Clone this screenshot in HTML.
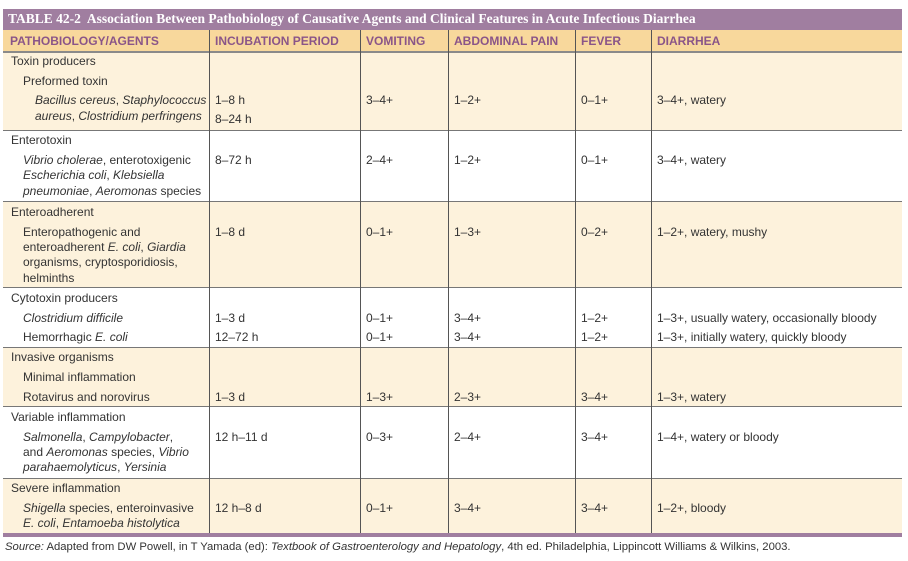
<!DOCTYPE html>
<html><head><meta charset="utf-8"><style>
body{margin:0;width:908px;height:561px;background:#fff;position:relative;overflow:hidden;font-family:"Liberation Sans",sans-serif;font-size:12px;color:#333}
.a{position:absolute;white-space:nowrap;line-height:14px}
.r{position:absolute;left:3px;width:899px}
.v{position:absolute;width:1px;background:#555}
.h{position:absolute;left:3px;width:899px;height:1px;background:#777}
.hd{position:absolute;top:34px;font-weight:bold;color:#8a5588;font-size:12px;line-height:14px}
</style></head><body>
<div class="r" style="top:9px;height:21px;background:#a07ea0"></div>
<div class="a" style="left:8px;top:12px;color:#fff;font-family:'Liberation Serif',serif;font-weight:bold;font-size:13.5px">TABLE 42-2&nbsp; Association Between Pathobiology of Causative Agents and Clinical Features in Acute Infectious Diarrhea</div>
<div class="r" style="top:30px;height:21px;background:#f8d89c"></div>
<div class="h" style="top:51px;height:2px;background:#8a8a8a"></div>
<div class="r" style="top:53px;height:77px;background:#fdf2dc"></div>
<div class="r" style="top:130px;height:71px;background:#fff"></div>
<div class="r" style="top:201px;height:86px;background:#fdf2dc"></div>
<div class="r" style="top:287px;height:60px;background:#fff"></div>
<div class="r" style="top:347px;height:59px;background:#fdf2dc"></div>
<div class="r" style="top:406px;height:72px;background:#fff"></div>
<div class="r" style="top:478px;height:56px;background:#fdf2dc"></div>
<div class="h" style="top:130px"></div><div class="h" style="top:201px"></div><div class="h" style="top:287px"></div>
<div class="h" style="top:347px"></div><div class="h" style="top:406px"></div><div class="h" style="top:478px"></div>
<div class="r" style="top:533px;height:4px;background:#a07ea0"></div>
<div class="v" style="left:209px;top:30px;height:503px"></div>
<div class="v" style="left:360px;top:30px;height:503px"></div>
<div class="v" style="left:448px;top:30px;height:503px"></div>
<div class="v" style="left:575px;top:30px;height:503px"></div>
<div class="v" style="left:651px;top:30px;height:503px"></div>
<div class="hd" style="left:10px">PATHOBIOLOGY/AGENTS</div>
<div class="hd" style="left:215px">INCUBATION PERIOD</div>
<div class="hd" style="left:366px">VOMITING</div>
<div class="hd" style="left:454px">ABDOMINAL PAIN</div>
<div class="hd" style="left:581px">FEVER</div>
<div class="hd" style="left:657px">DIARRHEA</div>

<div class="a" style="left:11px;top:54px">Toxin producers</div>
<div class="a" style="left:23px;top:74px">Preformed toxin</div>
<div class="a" style="left:35px;top:93px"><i>Bacillus cereus</i>, <i>Staphylococcus</i></div>
<div class="a" style="left:35px;top:109px"><i>aureus</i>, <i>Clostridium perfringens</i></div>
<div class="a" style="left:215px;top:93px">1–8 h</div><div class="a" style="left:215px;top:112px">8–24 h</div>
<div class="a" style="left:366px;top:93px">3–4+</div><div class="a" style="left:454px;top:93px">1–2+</div>
<div class="a" style="left:581px;top:93px">0–1+</div><div class="a" style="left:657px;top:93px">3–4+, watery</div>

<div class="a" style="left:11px;top:133px">Enterotoxin</div>
<div class="a" style="left:23px;top:153px"><i>Vibrio cholerae</i>, enterotoxigenic</div>
<div class="a" style="left:23px;top:168px"><i>Escherichia coli</i>, <i>Klebsiella</i></div>
<div class="a" style="left:23px;top:184px"><i>pneumoniae</i>, <i>Aeromonas</i> species</div>
<div class="a" style="left:215px;top:153px">8–72 h</div><div class="a" style="left:366px;top:153px">2–4+</div>
<div class="a" style="left:454px;top:153px">1–2+</div><div class="a" style="left:581px;top:153px">0–1+</div>
<div class="a" style="left:657px;top:153px">3–4+, watery</div>

<div class="a" style="left:11px;top:205px">Enteroadherent</div>
<div class="a" style="left:23px;top:225px">Enteropathogenic and</div>
<div class="a" style="left:23px;top:240px">enteroadherent <i>E. coli</i>, <i>Giardia</i></div>
<div class="a" style="left:23px;top:255px">organisms, cryptosporidiosis,</div>
<div class="a" style="left:23px;top:271px">helminths</div>
<div class="a" style="left:215px;top:225px">1–8 d</div><div class="a" style="left:366px;top:225px">0–1+</div>
<div class="a" style="left:454px;top:225px">1–3+</div><div class="a" style="left:581px;top:225px">0–2+</div>
<div class="a" style="left:657px;top:225px">1–2+, watery, mushy</div>

<div class="a" style="left:11px;top:291px">Cytotoxin producers</div>
<div class="a" style="left:23px;top:311px"><i>Clostridium difficile</i></div>
<div class="a" style="left:23px;top:330px">Hemorrhagic <i>E. coli</i></div>
<div class="a" style="left:215px;top:311px">1–3 d</div><div class="a" style="left:215px;top:330px">12–72 h</div>
<div class="a" style="left:366px;top:311px">0–1+</div><div class="a" style="left:366px;top:330px">0–1+</div>
<div class="a" style="left:454px;top:311px">3–4+</div><div class="a" style="left:454px;top:330px">3–4+</div>
<div class="a" style="left:581px;top:311px">1–2+</div><div class="a" style="left:581px;top:330px">1–2+</div>
<div class="a" style="left:657px;top:311px">1–3+, usually watery, occasionally bloody</div>
<div class="a" style="left:657px;top:330px">1–3+, initially watery, quickly bloody</div>

<div class="a" style="left:11px;top:350px">Invasive organisms</div>
<div class="a" style="left:23px;top:370px">Minimal inflammation</div>
<div class="a" style="left:23px;top:390px">Rotavirus and norovirus</div>
<div class="a" style="left:215px;top:390px">1–3 d</div><div class="a" style="left:366px;top:390px">1–3+</div>
<div class="a" style="left:454px;top:390px">2–3+</div><div class="a" style="left:581px;top:390px">3–4+</div>
<div class="a" style="left:657px;top:390px">1–3+, watery</div>

<div class="a" style="left:11px;top:410px">Variable inflammation</div>
<div class="a" style="left:23px;top:430px"><i>Salmonella</i>, <i>Campylobacter</i>,</div>
<div class="a" style="left:23px;top:445px">and <i>Aeromonas</i> species, <i>Vibrio</i></div>
<div class="a" style="left:23px;top:460px"><i>parahaemolyticus</i>, <i>Yersinia</i></div>
<div class="a" style="left:215px;top:430px">12 h–11 d</div><div class="a" style="left:366px;top:430px">0–3+</div>
<div class="a" style="left:454px;top:430px">2–4+</div><div class="a" style="left:581px;top:430px">3–4+</div>
<div class="a" style="left:657px;top:430px">1–4+, watery or bloody</div>

<div class="a" style="left:11px;top:481px">Severe inflammation</div>
<div class="a" style="left:23px;top:501px"><i>Shigella</i> species, enteroinvasive</div>
<div class="a" style="left:23px;top:516px"><i>E. coli</i>, <i>Entamoeba histolytica</i></div>
<div class="a" style="left:215px;top:501px">12 h–8 d</div><div class="a" style="left:366px;top:501px">0–1+</div>
<div class="a" style="left:454px;top:501px">3–4+</div><div class="a" style="left:581px;top:501px">3–4+</div>
<div class="a" style="left:657px;top:501px">1–2+, bloody</div>

<div class="a" style="left:5px;top:540px;font-size:11.3px"><i>Source:</i> Adapted from DW Powell, in T Yamada (ed): <i>Textbook of Gastroenterology and Hepatology</i>, 4th ed. Philadelphia, Lippincott Williams &amp; Wilkins, 2003.</div>
</body></html>
